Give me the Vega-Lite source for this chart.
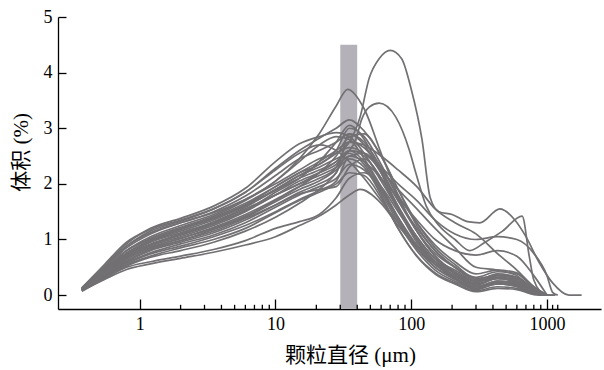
{
"$schema":"https://vega.github.io/schema/vega-lite/v6.json",
"width":543,"height":292,
"autosize":{"type":"none"},
"padding":{"left":58,"top":17,"right":3,"bottom":61},
"config":{"view":{"stroke":null},"font":"Liberation Serif"},
"layer":[
{"data":{"values":[{"a":30,"b":40,"lo":-0.25,"hi":4.5}]},
 "mark":{"type":"rect","color":"#b5b1b9"},
 "encoding":{
  "x":{"field":"a","type":"quantitative","title":"颗粒直径 (μm)","scale":{"type":"log","domain":[0.25,2500],"nice":false}},
  "x2":{"field":"b"},
  "y":{"field":"lo","type":"quantitative","title":"体积 (%)","scale":{"domain":[-0.25,5],"nice":false,"zero":false}},
  "y2":{"field":"hi"}}},
{"data":{"values":[{"t":2},{"t":3},{"t":4},{"t":5},{"t":6},{"t":7},{"t":8},{"t":9},{"t":20},{"t":30},{"t":40},{"t":50},{"t":60},{"t":70},{"t":80},{"t":90},{"t":200},{"t":300},{"t":400},{"t":500},{"t":600},{"t":700},{"t":800},{"t":900},{"t":1100},{"t":1200}]},
 "mark":{"type":"rule","color":"#000","strokeWidth":1.3},
 "encoding":{
  "x":{"field":"t","type":"quantitative","title":"颗粒直径 (μm)"},
  "y":{"datum":-0.25},"y2":{"datum":-0.175}}},
{"data":{"values":[
{"c":1,"x":0.375,"y":0.13},{"c":1,"x":0.55,"y":0.52},{"c":1,"x":0.8,"y":0.92},{"c":1,"x":1.2,"y":1.2},{"c":1,"x":2,"y":1.38},{"c":1,"x":3.5,"y":1.6},{"c":1,"x":6,"y":1.92},{"c":1,"x":10,"y":2.4},{"c":1,"x":15,"y":2.72},{"c":1,"x":21,"y":2.85},{"c":1,"x":28,"y":2.92},{"c":1,"x":35,"y":2.85},{"c":1,"x":45,"y":2.55},{"c":1,"x":60,"y":2.05},{"c":1,"x":80,"y":1.55},{"c":1,"x":110,"y":1.05},{"c":1,"x":150,"y":0.65},{"c":1,"x":210,"y":0.45},{"c":1,"x":300,"y":0.25},{"c":1,"x":430,"y":0.32},{"c":1,"x":600,"y":0.28},{"c":1,"x":800,"y":0.08},{"c":1,"x":1000,"y":0},
{"c":2,"x":0.375,"y":0.12},{"c":2,"x":0.55,"y":0.5},{"c":2,"x":0.8,"y":0.88},{"c":2,"x":1.2,"y":1.15},{"c":2,"x":2,"y":1.33},{"c":2,"x":3.5,"y":1.55},{"c":2,"x":6,"y":1.85},{"c":2,"x":10,"y":2.28},{"c":2,"x":15,"y":2.6},{"c":2,"x":21,"y":2.82},{"c":2,"x":28,"y":3.0},{"c":2,"x":35,"y":3.15},{"c":2,"x":45,"y":2.95},{"c":2,"x":60,"y":2.5},{"c":2,"x":80,"y":1.9},{"c":2,"x":110,"y":1.25},{"c":2,"x":150,"y":0.8},{"c":2,"x":210,"y":0.5},{"c":2,"x":300,"y":0.28},{"c":2,"x":430,"y":0.35},{"c":2,"x":600,"y":0.3},{"c":2,"x":800,"y":0.1},{"c":2,"x":1000,"y":0},
{"c":3,"x":0.375,"y":0.11},{"c":3,"x":0.55,"y":0.46},{"c":3,"x":0.8,"y":0.8},{"c":3,"x":1.2,"y":1.05},{"c":3,"x":2,"y":1.25},{"c":3,"x":3.5,"y":1.45},{"c":3,"x":6,"y":1.72},{"c":3,"x":10,"y":2.05},{"c":3,"x":15,"y":2.45},{"c":3,"x":21,"y":2.9},{"c":3,"x":28,"y":3.4},{"c":3,"x":34,"y":3.7},{"c":3,"x":45,"y":3.35},{"c":3,"x":60,"y":2.55},{"c":3,"x":80,"y":1.8},{"c":3,"x":110,"y":1.15},{"c":3,"x":150,"y":0.7},{"c":3,"x":210,"y":0.4},{"c":3,"x":300,"y":0.2},{"c":3,"x":430,"y":0.3},{"c":3,"x":600,"y":0.22},{"c":3,"x":800,"y":0.05},{"c":3,"x":1000,"y":0},
{"c":4,"x":0.375,"y":0.1},{"c":4,"x":0.55,"y":0.42},{"c":4,"x":0.8,"y":0.76},{"c":4,"x":1.2,"y":0.98},{"c":4,"x":2,"y":1.18},{"c":4,"x":3.5,"y":1.38},{"c":4,"x":6,"y":1.62},{"c":4,"x":10,"y":1.9},{"c":4,"x":15,"y":2.15},{"c":4,"x":21,"y":2.35},{"c":4,"x":28,"y":2.55},{"c":4,"x":35,"y":2.75},{"c":4,"x":42,"y":3.2},{"c":4,"x":49,"y":3.9},{"c":4,"x":58,"y":4.25},{"c":4,"x":70,"y":4.4},{"c":4,"x":85,"y":4.25},{"c":4,"x":100,"y":3.7},{"c":4,"x":120,"y":2.8},{"c":4,"x":138,"y":1.75},{"c":4,"x":160,"y":1.5},{"c":4,"x":200,"y":1.45},{"c":4,"x":260,"y":1.32},{"c":4,"x":320,"y":1.3},{"c":4,"x":450,"y":1.55},{"c":4,"x":580,"y":1.35},{"c":4,"x":700,"y":1.05},{"c":4,"x":870,"y":0.6},{"c":4,"x":1100,"y":0.22},{"c":4,"x":1450,"y":0},{"c":4,"x":1800,"y":0},
{"c":5,"x":0.375,"y":0.1},{"c":5,"x":0.55,"y":0.4},{"c":5,"x":0.8,"y":0.72},{"c":5,"x":1.2,"y":0.92},{"c":5,"x":2,"y":1.1},{"c":5,"x":3.5,"y":1.3},{"c":5,"x":6,"y":1.55},{"c":5,"x":10,"y":1.8},{"c":5,"x":15,"y":2.0},{"c":5,"x":21,"y":2.2},{"c":5,"x":28,"y":2.4},{"c":5,"x":35,"y":2.6},{"c":5,"x":39,"y":2.79},{"c":5,"x":43,"y":3.15},{"c":5,"x":49,"y":3.38},{"c":5,"x":58,"y":3.45},{"c":5,"x":77,"y":3.2},{"c":5,"x":97,"y":2.6},{"c":5,"x":108,"y":2.2},{"c":5,"x":129,"y":1.6},{"c":5,"x":160,"y":1.25},{"c":5,"x":210,"y":1.0},{"c":5,"x":270,"y":0.8},{"c":5,"x":350,"y":0.95},{"c":5,"x":470,"y":1.15},{"c":5,"x":656,"y":1.42},{"c":5,"x":740,"y":0.7},{"c":5,"x":800,"y":0.27},{"c":5,"x":960,"y":0},
{"c":6,"x":0.375,"y":0.08},{"c":6,"x":0.55,"y":0.28},{"c":6,"x":0.8,"y":0.46},{"c":6,"x":1.2,"y":0.56},{"c":6,"x":2,"y":0.66},{"c":6,"x":3.5,"y":0.77},{"c":6,"x":6,"y":0.9},{"c":6,"x":10,"y":1.05},{"c":6,"x":15,"y":1.25},{"c":6,"x":21,"y":1.42},{"c":6,"x":28,"y":1.62},{"c":6,"x":35,"y":1.8},{"c":6,"x":42,"y":1.9},{"c":6,"x":60,"y":1.65},{"c":6,"x":80,"y":1.25},{"c":6,"x":110,"y":0.85},{"c":6,"x":150,"y":0.55},{"c":6,"x":210,"y":0.35},{"c":6,"x":300,"y":0.15},{"c":6,"x":430,"y":0.22},{"c":6,"x":600,"y":0.18},{"c":6,"x":800,"y":0.04},{"c":6,"x":1000,"y":0},
{"c":7,"x":0.375,"y":0.09},{"c":7,"x":0.55,"y":0.3},{"c":7,"x":0.8,"y":0.5},{"c":7,"x":1.2,"y":0.6},{"c":7,"x":2,"y":0.7},{"c":7,"x":3.5,"y":0.82},{"c":7,"x":6,"y":0.98},{"c":7,"x":10,"y":1.2},{"c":7,"x":15,"y":1.32},{"c":7,"x":21,"y":1.45},{"c":7,"x":28,"y":1.75},{"c":7,"x":35,"y":2.1},{"c":7,"x":45,"y":2.2},{"c":7,"x":60,"y":1.95},{"c":7,"x":80,"y":1.5},{"c":7,"x":110,"y":1.0},{"c":7,"x":150,"y":0.6},{"c":7,"x":210,"y":0.32},{"c":7,"x":300,"y":0.12},{"c":7,"x":430,"y":0.2},{"c":7,"x":600,"y":0.15},{"c":7,"x":800,"y":0.02},{"c":7,"x":1000,"y":0},
{"c":8,"x":0.375,"y":0.12},{"c":8,"x":0.55,"y":0.48},{"c":8,"x":0.8,"y":0.85},{"c":8,"x":1.2,"y":1.1},{"c":8,"x":2,"y":1.3},{"c":8,"x":3.5,"y":1.5},{"c":8,"x":6,"y":1.78},{"c":8,"x":10,"y":2.15},{"c":8,"x":15,"y":2.45},{"c":8,"x":21,"y":2.6},{"c":8,"x":28,"y":2.75},{"c":8,"x":35,"y":2.9},{"c":8,"x":45,"y":2.7},{"c":8,"x":60,"y":2.2},{"c":8,"x":80,"y":1.6},{"c":8,"x":110,"y":1.0},{"c":8,"x":150,"y":0.55},{"c":8,"x":210,"y":0.35},{"c":8,"x":300,"y":0.2},{"c":8,"x":430,"y":0.3},{"c":8,"x":600,"y":0.25},{"c":8,"x":800,"y":0.06},{"c":8,"x":1000,"y":0},{"c":8,"x":1150,"y":0},
{"c":9,"x":0.375,"y":0.11},{"c":9,"x":0.55,"y":0.45},{"c":9,"x":0.8,"y":0.8},{"c":9,"x":1.2,"y":1.02},{"c":9,"x":2,"y":1.22},{"c":9,"x":3.5,"y":1.42},{"c":9,"x":6,"y":1.7},{"c":9,"x":10,"y":2.05},{"c":9,"x":15,"y":2.4},{"c":9,"x":21,"y":2.7},{"c":9,"x":28,"y":2.85},{"c":9,"x":35,"y":2.8},{"c":9,"x":45,"y":2.45},{"c":9,"x":60,"y":1.95},{"c":9,"x":80,"y":1.4},{"c":9,"x":110,"y":0.85},{"c":9,"x":150,"y":0.5},{"c":9,"x":210,"y":0.3},{"c":9,"x":300,"y":0.12},{"c":9,"x":430,"y":0.25},{"c":9,"x":600,"y":0.2},{"c":9,"x":800,"y":0.04},{"c":9,"x":1000,"y":0},
{"c":10,"x":0.375,"y":0.1},{"c":10,"x":0.55,"y":0.42},{"c":10,"x":0.8,"y":0.75},{"c":10,"x":1.2,"y":0.98},{"c":10,"x":2,"y":1.18},{"c":10,"x":3.5,"y":1.38},{"c":10,"x":6,"y":1.62},{"c":10,"x":10,"y":1.95},{"c":10,"x":15,"y":2.2},{"c":10,"x":21,"y":2.35},{"c":10,"x":28,"y":2.6},{"c":10,"x":35,"y":3.0},{"c":10,"x":45,"y":2.85},{"c":10,"x":60,"y":2.35},{"c":10,"x":80,"y":1.75},{"c":10,"x":110,"y":1.15},{"c":10,"x":150,"y":0.7},{"c":10,"x":210,"y":0.42},{"c":10,"x":300,"y":0.25},{"c":10,"x":430,"y":0.38},{"c":10,"x":600,"y":0.32},{"c":10,"x":800,"y":0.1},{"c":10,"x":1000,"y":0},
{"c":11,"x":0.375,"y":0.1},{"c":11,"x":0.55,"y":0.4},{"c":11,"x":0.8,"y":0.72},{"c":11,"x":1.2,"y":0.95},{"c":11,"x":2,"y":1.12},{"c":11,"x":3.5,"y":1.32},{"c":11,"x":6,"y":1.58},{"c":11,"x":10,"y":1.9},{"c":11,"x":15,"y":2.15},{"c":11,"x":21,"y":2.3},{"c":11,"x":28,"y":2.45},{"c":11,"x":35,"y":2.55},{"c":11,"x":45,"y":2.35},{"c":11,"x":60,"y":1.85},{"c":11,"x":80,"y":1.3},{"c":11,"x":110,"y":0.8},{"c":11,"x":150,"y":0.45},{"c":11,"x":210,"y":0.25},{"c":11,"x":300,"y":0.1},{"c":11,"x":430,"y":0.2},{"c":11,"x":600,"y":0.18},{"c":11,"x":800,"y":0.03},{"c":11,"x":1000,"y":0},
{"c":12,"x":0.375,"y":0.1},{"c":12,"x":0.55,"y":0.4},{"c":12,"x":0.8,"y":0.7},{"c":12,"x":1.2,"y":0.9},{"c":12,"x":2,"y":1.08},{"c":12,"x":3.5,"y":1.28},{"c":12,"x":6,"y":1.52},{"c":12,"x":10,"y":1.85},{"c":12,"x":15,"y":2.1},{"c":12,"x":21,"y":2.4},{"c":12,"x":28,"y":2.75},{"c":12,"x":35,"y":3.05},{"c":12,"x":45,"y":2.8},{"c":12,"x":60,"y":2.2},{"c":12,"x":80,"y":1.55},{"c":12,"x":110,"y":0.95},{"c":12,"x":150,"y":0.6},{"c":12,"x":210,"y":0.4},{"c":12,"x":300,"y":0.22},{"c":12,"x":430,"y":0.35},{"c":12,"x":600,"y":0.3},{"c":12,"x":800,"y":0.08},{"c":12,"x":1000,"y":0},{"c":12,"x":1150,"y":0},
{"c":13,"x":0.375,"y":0.09},{"c":13,"x":0.55,"y":0.38},{"c":13,"x":0.8,"y":0.68},{"c":13,"x":1.2,"y":0.88},{"c":13,"x":2,"y":1.05},{"c":13,"x":3.5,"y":1.25},{"c":13,"x":6,"y":1.5},{"c":13,"x":10,"y":1.8},{"c":13,"x":15,"y":2.05},{"c":13,"x":21,"y":2.2},{"c":13,"x":28,"y":2.35},{"c":13,"x":35,"y":2.6},{"c":13,"x":45,"y":2.5},{"c":13,"x":60,"y":2.1},{"c":13,"x":80,"y":1.6},{"c":13,"x":110,"y":1.05},{"c":13,"x":150,"y":0.65},{"c":13,"x":210,"y":0.38},{"c":13,"x":300,"y":0.18},{"c":13,"x":430,"y":0.3},{"c":13,"x":600,"y":0.25},{"c":13,"x":800,"y":0.05},{"c":13,"x":1000,"y":0},
{"c":14,"x":0.375,"y":0.09},{"c":14,"x":0.55,"y":0.36},{"c":14,"x":0.8,"y":0.65},{"c":14,"x":1.2,"y":0.85},{"c":14,"x":2,"y":1.02},{"c":14,"x":3.5,"y":1.22},{"c":14,"x":6,"y":1.45},{"c":14,"x":10,"y":1.72},{"c":14,"x":15,"y":1.95},{"c":14,"x":21,"y":2.1},{"c":14,"x":28,"y":2.3},{"c":14,"x":35,"y":2.75},{"c":14,"x":45,"y":2.65},{"c":14,"x":60,"y":2.25},{"c":14,"x":80,"y":1.7},{"c":14,"x":110,"y":1.15},{"c":14,"x":150,"y":0.75},{"c":14,"x":210,"y":0.5},{"c":14,"x":300,"y":0.32},{"c":14,"x":430,"y":0.42},{"c":14,"x":600,"y":0.38},{"c":14,"x":800,"y":0.12},{"c":14,"x":1000,"y":0},
{"c":15,"x":0.375,"y":0.09},{"c":15,"x":0.55,"y":0.35},{"c":15,"x":0.8,"y":0.62},{"c":15,"x":1.2,"y":0.82},{"c":15,"x":2,"y":0.98},{"c":15,"x":3.5,"y":1.18},{"c":15,"x":6,"y":1.4},{"c":15,"x":10,"y":1.68},{"c":15,"x":15,"y":1.9},{"c":15,"x":21,"y":2.05},{"c":15,"x":28,"y":2.25},{"c":15,"x":35,"y":2.45},{"c":15,"x":45,"y":2.3},{"c":15,"x":60,"y":1.8},{"c":15,"x":80,"y":1.2},{"c":15,"x":110,"y":0.7},{"c":15,"x":150,"y":0.4},{"c":15,"x":210,"y":0.22},{"c":15,"x":300,"y":0.08},{"c":15,"x":430,"y":0.15},{"c":15,"x":600,"y":0.12},{"c":15,"x":800,"y":0.02},{"c":15,"x":1000,"y":0},
{"c":16,"x":0.375,"y":0.08},{"c":16,"x":0.55,"y":0.34},{"c":16,"x":0.8,"y":0.6},{"c":16,"x":1.2,"y":0.8},{"c":16,"x":2,"y":0.95},{"c":16,"x":3.5,"y":1.12},{"c":16,"x":6,"y":1.35},{"c":16,"x":10,"y":1.62},{"c":16,"x":15,"y":1.85},{"c":16,"x":21,"y":2.0},{"c":16,"x":28,"y":2.2},{"c":16,"x":35,"y":2.9},{"c":16,"x":45,"y":2.75},{"c":16,"x":60,"y":2.3},{"c":16,"x":80,"y":1.8},{"c":16,"x":110,"y":1.3},{"c":16,"x":150,"y":0.9},{"c":16,"x":210,"y":0.6},{"c":16,"x":300,"y":0.38},{"c":16,"x":430,"y":0.45},{"c":16,"x":600,"y":0.4},{"c":16,"x":800,"y":0.15},{"c":16,"x":1000,"y":0},
{"c":17,"x":0.375,"y":0.08},{"c":17,"x":0.55,"y":0.33},{"c":17,"x":0.8,"y":0.58},{"c":17,"x":1.2,"y":0.76},{"c":17,"x":2,"y":0.92},{"c":17,"x":3.5,"y":1.08},{"c":17,"x":6,"y":1.3},{"c":17,"x":10,"y":1.58},{"c":17,"x":15,"y":1.8},{"c":17,"x":21,"y":1.95},{"c":17,"x":28,"y":2.1},{"c":17,"x":35,"y":2.35},{"c":17,"x":45,"y":2.25},{"c":17,"x":60,"y":1.9},{"c":17,"x":80,"y":1.4},{"c":17,"x":110,"y":0.9},{"c":17,"x":150,"y":0.55},{"c":17,"x":210,"y":0.3},{"c":17,"x":300,"y":0.15},{"c":17,"x":430,"y":0.22},{"c":17,"x":600,"y":0.2},{"c":17,"x":800,"y":0.05},{"c":17,"x":1000,"y":0},
{"c":18,"x":0.375,"y":0.08},{"c":18,"x":0.55,"y":0.32},{"c":18,"x":0.8,"y":0.56},{"c":18,"x":1.2,"y":0.74},{"c":18,"x":2,"y":0.88},{"c":18,"x":3.5,"y":1.05},{"c":18,"x":6,"y":1.25},{"c":18,"x":10,"y":1.5},{"c":18,"x":15,"y":1.72},{"c":18,"x":21,"y":1.88},{"c":18,"x":28,"y":2.05},{"c":18,"x":35,"y":2.5},{"c":18,"x":45,"y":2.55},{"c":18,"x":60,"y":2.2},{"c":18,"x":80,"y":1.7},{"c":18,"x":110,"y":1.2},{"c":18,"x":150,"y":0.8},{"c":18,"x":210,"y":0.5},{"c":18,"x":300,"y":0.28},{"c":18,"x":430,"y":0.36},{"c":18,"x":600,"y":0.32},{"c":18,"x":800,"y":0.08},{"c":18,"x":1000,"y":0},
{"c":19,"x":0.375,"y":0.08},{"c":19,"x":0.55,"y":0.31},{"c":19,"x":0.8,"y":0.54},{"c":19,"x":1.2,"y":0.7},{"c":19,"x":2,"y":0.85},{"c":19,"x":3.5,"y":1.0},{"c":19,"x":6,"y":1.2},{"c":19,"x":10,"y":1.48},{"c":19,"x":15,"y":1.7},{"c":19,"x":21,"y":1.85},{"c":19,"x":28,"y":2.0},{"c":19,"x":35,"y":2.2},{"c":19,"x":45,"y":2.15},{"c":19,"x":60,"y":1.75},{"c":19,"x":80,"y":1.2},{"c":19,"x":110,"y":0.7},{"c":19,"x":150,"y":0.38},{"c":19,"x":210,"y":0.2},{"c":19,"x":300,"y":0.06},{"c":19,"x":430,"y":0.12},{"c":19,"x":600,"y":0.1},{"c":19,"x":800,"y":0.01},{"c":19,"x":1000,"y":0},
{"c":20,"x":0.375,"y":0.07},{"c":20,"x":0.55,"y":0.3},{"c":20,"x":0.8,"y":0.52},{"c":20,"x":1.2,"y":0.68},{"c":20,"x":2,"y":0.8},{"c":20,"x":3.5,"y":0.95},{"c":20,"x":6,"y":1.15},{"c":20,"x":10,"y":1.4},{"c":20,"x":15,"y":1.65},{"c":20,"x":21,"y":1.9},{"c":20,"x":28,"y":2.2},{"c":20,"x":35,"y":2.6},{"c":20,"x":45,"y":2.4},{"c":20,"x":60,"y":1.9},{"c":20,"x":80,"y":1.35},{"c":20,"x":110,"y":0.85},{"c":20,"x":150,"y":0.5},{"c":20,"x":210,"y":0.28},{"c":20,"x":300,"y":0.12},{"c":20,"x":430,"y":0.2},{"c":20,"x":600,"y":0.16},{"c":20,"x":800,"y":0.03},{"c":20,"x":1000,"y":0},
{"c":21,"x":0.375,"y":0.13},{"c":21,"x":0.55,"y":0.55},{"c":21,"x":0.8,"y":0.95},{"c":21,"x":1.2,"y":1.18},{"c":21,"x":2,"y":1.35},{"c":21,"x":3.5,"y":1.55},{"c":21,"x":6,"y":1.85},{"c":21,"x":10,"y":2.25},{"c":21,"x":15,"y":2.55},{"c":21,"x":21,"y":2.7},{"c":21,"x":28,"y":2.6},{"c":21,"x":35,"y":2.4},{"c":21,"x":45,"y":2.1},{"c":21,"x":60,"y":1.7},{"c":21,"x":80,"y":1.3},{"c":21,"x":110,"y":0.9},{"c":21,"x":150,"y":0.6},{"c":21,"x":210,"y":0.4},{"c":21,"x":300,"y":0.25},{"c":21,"x":430,"y":0.3},{"c":21,"x":600,"y":0.25},{"c":21,"x":800,"y":0.05},{"c":21,"x":1000,"y":0},
{"c":22,"x":0.375,"y":0.12},{"c":22,"x":0.55,"y":0.5},{"c":22,"x":0.8,"y":0.88},{"c":22,"x":1.2,"y":1.12},{"c":22,"x":2,"y":1.3},{"c":22,"x":3.5,"y":1.48},{"c":22,"x":6,"y":1.72},{"c":22,"x":10,"y":2.0},{"c":22,"x":15,"y":2.25},{"c":22,"x":21,"y":2.45},{"c":22,"x":28,"y":2.55},{"c":22,"x":35,"y":2.65},{"c":22,"x":45,"y":2.55},{"c":22,"x":60,"y":2.25},{"c":22,"x":80,"y":1.9},{"c":22,"x":110,"y":1.55},{"c":22,"x":150,"y":1.2},{"c":22,"x":210,"y":0.85},{"c":22,"x":300,"y":0.5},{"c":22,"x":430,"y":0.45},{"c":22,"x":600,"y":0.35},{"c":22,"x":800,"y":0.1},{"c":22,"x":1000,"y":0},
{"c":23,"x":0.375,"y":0.11},{"c":23,"x":0.55,"y":0.45},{"c":23,"x":0.8,"y":0.8},{"c":23,"x":1.2,"y":1.0},{"c":23,"x":2,"y":1.2},{"c":23,"x":3.5,"y":1.4},{"c":23,"x":6,"y":1.65},{"c":23,"x":10,"y":1.95},{"c":23,"x":15,"y":2.2},{"c":23,"x":21,"y":2.4},{"c":23,"x":28,"y":2.6},{"c":23,"x":35,"y":2.75},{"c":23,"x":45,"y":2.7},{"c":23,"x":60,"y":2.5},{"c":23,"x":80,"y":2.25},{"c":23,"x":110,"y":1.95},{"c":23,"x":150,"y":1.55},{"c":23,"x":210,"y":1.3},{"c":23,"x":300,"y":1.1},{"c":23,"x":430,"y":0.75},{"c":23,"x":600,"y":0.45},{"c":23,"x":800,"y":0.15},{"c":23,"x":1000,"y":0},
{"c":24,"x":0.375,"y":0.1},{"c":24,"x":0.55,"y":0.42},{"c":24,"x":0.8,"y":0.75},{"c":24,"x":1.2,"y":0.96},{"c":24,"x":2,"y":1.15},{"c":24,"x":3.5,"y":1.35},{"c":24,"x":6,"y":1.6},{"c":24,"x":10,"y":1.88},{"c":24,"x":15,"y":2.1},{"c":24,"x":21,"y":2.25},{"c":24,"x":28,"y":2.4},{"c":24,"x":35,"y":2.6},{"c":24,"x":45,"y":2.55},{"c":24,"x":60,"y":2.3},{"c":24,"x":80,"y":2.0},{"c":24,"x":110,"y":1.7},{"c":24,"x":150,"y":1.35},{"c":24,"x":210,"y":1.1},{"c":24,"x":300,"y":1.0},{"c":24,"x":430,"y":1.05},{"c":24,"x":600,"y":1.0},{"c":24,"x":800,"y":0.75},{"c":24,"x":1000,"y":0.35},{"c":24,"x":1100,"y":0.05},{"c":24,"x":1200,"y":0},
{"c":25,"x":0.375,"y":0.1},{"c":25,"x":0.55,"y":0.4},{"c":25,"x":0.8,"y":0.7},{"c":25,"x":1.2,"y":0.9},{"c":25,"x":2,"y":1.08},{"c":25,"x":3.5,"y":1.28},{"c":25,"x":6,"y":1.52},{"c":25,"x":10,"y":1.8},{"c":25,"x":15,"y":2.0},{"c":25,"x":21,"y":2.15},{"c":25,"x":28,"y":2.3},{"c":25,"x":35,"y":2.5},{"c":25,"x":45,"y":2.4},{"c":25,"x":60,"y":2.1},{"c":25,"x":80,"y":1.75},{"c":25,"x":110,"y":1.35},{"c":25,"x":150,"y":1.0},{"c":25,"x":210,"y":0.8},{"c":25,"x":300,"y":0.72},{"c":25,"x":430,"y":0.8},{"c":25,"x":600,"y":0.7},{"c":25,"x":800,"y":0.35},{"c":25,"x":1000,"y":0},
{"c":26,"x":0.375,"y":0.09},{"c":26,"x":0.55,"y":0.37},{"c":26,"x":0.8,"y":0.66},{"c":26,"x":1.2,"y":0.86},{"c":26,"x":2,"y":1.02},{"c":26,"x":3.5,"y":1.2},{"c":26,"x":6,"y":1.42},{"c":26,"x":10,"y":1.7},{"c":26,"x":15,"y":1.95},{"c":26,"x":21,"y":2.2},{"c":26,"x":28,"y":2.5},{"c":26,"x":35,"y":2.85},{"c":26,"x":45,"y":2.9},{"c":26,"x":60,"y":2.5},{"c":26,"x":80,"y":1.9},{"c":26,"x":110,"y":1.3},{"c":26,"x":150,"y":0.85},{"c":26,"x":210,"y":0.55},{"c":26,"x":300,"y":0.3},{"c":26,"x":430,"y":0.35},{"c":26,"x":600,"y":0.3},{"c":26,"x":800,"y":0.06},{"c":26,"x":1000,"y":0},
{"c":27,"x":0.375,"y":0.1},{"c":27,"x":0.55,"y":0.38},{"c":27,"x":0.8,"y":0.66},{"c":27,"x":1.2,"y":0.84},{"c":27,"x":2,"y":0.98},{"c":27,"x":3.5,"y":1.15},{"c":27,"x":6,"y":1.38},{"c":27,"x":10,"y":1.62},{"c":27,"x":15,"y":1.82},{"c":27,"x":21,"y":1.9},{"c":27,"x":28,"y":1.95},{"c":27,"x":35,"y":2.3},{"c":27,"x":45,"y":2.45},{"c":27,"x":60,"y":2.1},{"c":27,"x":80,"y":1.55},{"c":27,"x":110,"y":1.0},{"c":27,"x":150,"y":0.6},{"c":27,"x":210,"y":0.35},{"c":27,"x":300,"y":0.16},{"c":27,"x":430,"y":0.25},{"c":27,"x":600,"y":0.22},{"c":27,"x":800,"y":0.04},{"c":27,"x":1000,"y":0}
]},
 "mark":{"type":"line","interpolate":"monotone","color":"#727073","strokeWidth":1.7},
 "encoding":{
  "x":{"field":"x","type":"quantitative","scale":{"type":"log","domain":[0.25,2500],"nice":false},
   "axis":{"title":"颗粒直径 (μm)","grid":false,"values":[1,10,100,1000],"format":"d","tickSize":-10,
    "domainColor":"#000","tickColor":"#000","domainWidth":1.3,"tickWidth":1.3,
    "labelFont":"Liberation Serif","labelFontSize":18,"labelColor":"#000","labelPadding":16,"labelFlush":false,"labelOverlap":false,
    "titleFont":"Liberation Serif, Noto Sans CJK SC","titleFontSize":21,"titleFontWeight":"normal","titleColor":"#000",
    "titleX":292,"titleY":35,"titleBaseline":"top"}},
  "y":{"field":"y","type":"quantitative","scale":{"domain":[-0.25,5],"nice":false,"zero":false},
   "axis":{"title":"体积 (%)","grid":false,"values":[0,1,2,3,4,5],"format":"d","tickSize":-8,
    "domainColor":"#000","tickColor":"#000","domainWidth":1.3,"tickWidth":1.3,
    "labelFont":"Liberation Serif","labelFontSize":18,"labelColor":"#000","labelPadding":14,"labelFlush":false,
    "titleFont":"Liberation Serif, Noto Sans CJK SC","titleFontSize":21,"titleFontWeight":"normal","titleColor":"#000",
    "titleX":-37,"titleY":135,"titleAlign":"center","titleBaseline":"middle","titleAngle":-90}},
  "detail":{"field":"c","type":"nominal"}}}
]
}
